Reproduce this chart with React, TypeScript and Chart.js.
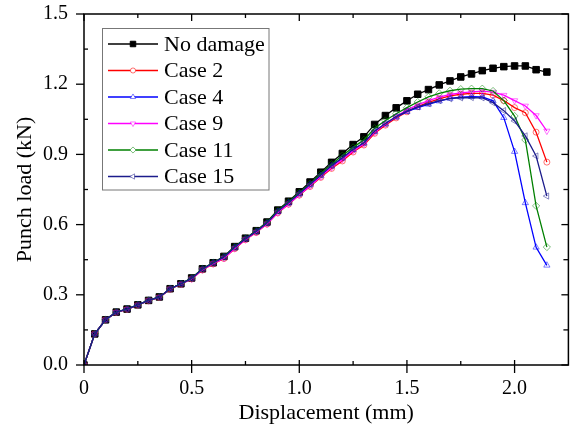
import React, { useEffect, useRef } from 'react';
import { Chart, registerables } from 'chart.js';
import { drawPoint } from 'chart.js/helpers';

Chart.register(...registerables);

const FONT = '"Liberation Serif", "Times New Roman", serif';

const displacement = [
  0, 0.05, 0.1, 0.15, 0.2, 0.25, 0.3, 0.35, 0.4, 0.45,
  0.5, 0.55, 0.6, 0.65, 0.7, 0.75, 0.8, 0.85, 0.9, 0.95,
  1.0, 1.05, 1.1, 1.15, 1.2, 1.25, 1.3, 1.35, 1.4, 1.45,
  1.5, 1.55, 1.6, 1.65, 1.7, 1.75, 1.8, 1.85, 1.9, 1.95,
  2.0, 2.05, 2.1, 2.15,
];

const noDamage = [
  0, 0.133, 0.193, 0.226, 0.239, 0.257, 0.276, 0.291, 0.326, 0.347,
  0.372, 0.411, 0.437, 0.464, 0.506, 0.542, 0.574, 0.611, 0.662, 0.7,
  0.74, 0.782, 0.824, 0.866, 0.904, 0.942, 0.975, 1.028, 1.066, 1.099,
  1.129, 1.157, 1.177, 1.197, 1.214, 1.231, 1.244, 1.258, 1.268, 1.275,
  1.278, 1.278, 1.262, 1.252,
];

const case2 = [
  0, 0.133, 0.193, 0.225, 0.238, 0.256, 0.275, 0.289, 0.324, 0.345,
  0.368, 0.406, 0.432, 0.455, 0.497, 0.535, 0.566, 0.602, 0.65, 0.687,
  0.726, 0.763, 0.802, 0.84, 0.872, 0.91, 0.94, 0.99, 1.025, 1.056,
  1.082, 1.104, 1.122, 1.137, 1.15, 1.157, 1.161, 1.161, 1.153, 1.13,
  1.1, 1.078, 0.995, 0.867,
];

const case4 = [
  0, 0.133, 0.193, 0.226, 0.239, 0.257, 0.276, 0.29, 0.326, 0.347,
  0.37, 0.41, 0.436, 0.461, 0.502, 0.539, 0.57, 0.606, 0.655, 0.692,
  0.731, 0.77, 0.81, 0.85, 0.884, 0.92, 0.948, 0.998, 1.03, 1.06,
  1.083, 1.1, 1.114, 1.128, 1.139, 1.145, 1.147, 1.146, 1.129, 1.057,
  0.912, 0.693, 0.503, 0.426,
];

const case9 = [
  0, 0.133, 0.193, 0.225, 0.238, 0.256, 0.275, 0.289, 0.325, 0.345,
  0.368, 0.407, 0.433, 0.456, 0.498, 0.536, 0.567, 0.603, 0.651, 0.688,
  0.727, 0.765, 0.805, 0.845, 0.878, 0.915, 0.945, 0.995, 1.03, 1.062,
  1.09, 1.112, 1.13, 1.145, 1.156, 1.163, 1.167, 1.17, 1.166, 1.153,
  1.13, 1.107, 1.066, 1.0,
];

const case11 = [
  0, 0.133, 0.193, 0.226, 0.239, 0.257, 0.276, 0.29, 0.326, 0.347,
  0.371, 0.411, 0.437, 0.463, 0.505, 0.541, 0.573, 0.609, 0.66, 0.697,
  0.736, 0.775, 0.818, 0.858, 0.895, 0.93, 0.962, 1.012, 1.045, 1.074,
  1.1, 1.124, 1.146, 1.161, 1.172, 1.179, 1.181, 1.181, 1.171, 1.13,
  1.064, 0.962, 0.68, 0.504,
];

const case15 = [
  0, 0.133, 0.193, 0.226, 0.239, 0.257, 0.276, 0.29, 0.326, 0.347,
  0.37, 0.41, 0.436, 0.462, 0.503, 0.539, 0.571, 0.607, 0.657, 0.693,
  0.733, 0.772, 0.812, 0.852, 0.886, 0.922, 0.95, 1.0, 1.032, 1.062,
  1.085, 1.103, 1.117, 1.13, 1.138, 1.142, 1.143, 1.142, 1.121, 1.087,
  1.043, 0.979, 0.893, 0.722,
];

const seriesNames = ['No damage', 'Case 2', 'Case 4', 'Case 9', 'Case 11', 'Case 15'];
const seriesValues = [noDamage, case2, case4, case9, case11, case15];

const xMajorTicks = [0, 0.5, 1.0, 1.5, 2.0];
const xTickLabels = ['0', '0.5', '1.0', '1.5', '2.0'];
const xMinorTicks = [0.25, 0.75, 1.25, 1.75];
const yMajorTicks = [0, 0.3, 0.6, 0.9, 1.2, 1.5];
const yTickLabels = ['0.0', '0.3', '0.6', '0.9', '1.2', '1.5'];
const yMinorTicks = [0.15, 0.45, 0.75, 1.05, 1.35];

const xTitle = 'Displacement (mm)';
const yTitle = 'Punch load (kN)';

type SeriesStyle = {
  line: string;
  marker: string;
  fill: string;
  pointStyle: string;
  rotation: number;
  radius: number;
};

const styles: SeriesStyle[] = [
  { line: '#000000', marker: '#000000', fill: '#000000', pointStyle: 'rect', rotation: 0, radius: 4.6 },
  { line: '#ff0000', marker: 'rgba(255,0,0,0.55)', fill: 'rgba(255,255,255,0)', pointStyle: 'circle', rotation: 0, radius: 3 },
  { line: '#0000ff', marker: 'rgba(0,0,255,0.5)', fill: 'rgba(255,255,255,0)', pointStyle: 'triangle', rotation: 0, radius: 3.6 },
  { line: '#ff00ff', marker: 'rgba(255,0,255,0.55)', fill: 'rgba(255,255,255,0)', pointStyle: 'triangle', rotation: 180, radius: 3.6 },
  { line: '#008000', marker: 'rgba(0,128,0,0.5)', fill: 'rgba(255,255,255,0)', pointStyle: 'rectRot', rotation: 0, radius: 3.6 },
  { line: '#1c1c8c', marker: 'rgba(28,28,140,0.5)', fill: 'rgba(255,255,255,0)', pointStyle: 'triangle', rotation: -90, radius: 3.6 },
];

const decorPlugin = {
  id: 'decor',
  afterDraw(chart: any) {
    const { ctx, chartArea } = chart;
    const { left, right, top, bottom } = chartArea;
    const xs = chart.scales.x;
    const ys = chart.scales.y;
    ctx.save();
    ctx.strokeStyle = '#000';
    ctx.lineWidth = 1.5;
    ctx.strokeRect(left, top, right - left, bottom - top);

    ctx.lineWidth = 1.3;
    const seg = (x1: number, y1: number, x2: number, y2: number) => {
      ctx.beginPath();
      ctx.moveTo(x1, y1);
      ctx.lineTo(x2, y2);
      ctx.stroke();
    };
    xMajorTicks.forEach((v) => {
      const p = xs.getPixelForValue(v);
      seg(p, bottom - 5, p, bottom + 8);
      seg(p, top, p, top + 7);
    });
    xMinorTicks.forEach((v) => {
      const p = xs.getPixelForValue(v);
      seg(p, bottom - 4, p, bottom);
      seg(p, top, p, top + 4);
    });
    yMajorTicks.forEach((v) => {
      const p = ys.getPixelForValue(v);
      seg(left - 8, p, left, p);
      seg(right - 7, p, right, p);
    });
    yMinorTicks.forEach((v) => {
      const p = ys.getPixelForValue(v);
      seg(left, p, left + 4, p);
      seg(right - 5, p, right, p);
    });

    // axis titles
    ctx.fillStyle = '#000';
    ctx.font = `22px ${FONT}`;
    ctx.textAlign = 'center';
    ctx.textBaseline = 'alphabetic';
    ctx.fillText(xTitle, (left + right) / 2, 419);
    ctx.save();
    ctx.translate(31, (top + bottom) / 2);
    ctx.rotate(-Math.PI / 2);
    ctx.fillText(yTitle, 0, 0);
    ctx.restore();

    // legend
    const bx = 102.5, by = 28.5, bw = 166.5, bh = 161.5;
    ctx.fillStyle = '#fff';
    ctx.fillRect(bx, by, bw, bh);
    ctx.strokeStyle = '#777';
    ctx.lineWidth = 1;
    ctx.strokeRect(bx, by, bw, bh);
    seriesNames.forEach((name, i) => {
      const st = styles[i];
      const yy = 44 + i * 26.5;
      ctx.strokeStyle = st.line;
      ctx.lineWidth = 1.3;
      seg(108, yy, 158, yy);
      ctx.strokeStyle = st.marker;
      ctx.fillStyle = st.fill === 'rgba(255,255,255,0)' ? '#ffffff' : st.fill;
      ctx.lineWidth = 1;
      drawPoint(ctx, { pointStyle: st.pointStyle, rotation: st.rotation, radius: st.radius * 0.85, borderWidth: 1 } as any, 133, yy);
      ctx.fillStyle = '#000';
      ctx.font = `22px ${FONT}`;
      ctx.textAlign = 'left';
      ctx.textBaseline = 'middle';
      ctx.fillText(name, 164, yy + 1);
    });
    ctx.restore();
  },
};

export default function App() {
  const canvasRef = useRef<HTMLCanvasElement | null>(null);

  useEffect(() => {
    const canvas = canvasRef.current;
    if (!canvas) return;
    const datasets = seriesNames.map((name, i) => ({
      label: name,
      data: displacement.map((x, j) => ({ x, y: seriesValues[i][j] })),
      borderColor: styles[i].line,
      borderWidth: 1.3,
      pointStyle: styles[i].pointStyle,
      pointRotation: styles[i].rotation,
      pointRadius: styles[i].radius,
      pointBorderWidth: 1,
      pointBorderColor: styles[i].marker,
      pointBackgroundColor: styles[i].fill,
      tension: 0,
      fill: false,
      order: seriesNames.length - i,
    }));
    const chart = new Chart(canvas, {
      type: 'line',
      data: { datasets } as any,
      options: {
        animation: false,
        responsive: false,
        maintainAspectRatio: false,
        layout: { padding: { top: 14, right: 5, left: 0, bottom: 0 } },
        plugins: { legend: { display: false }, tooltip: { enabled: false } },
        scales: {
          x: {
            type: 'linear',
            min: 0,
            max: 2.25,
            grid: { display: false },
            border: { display: false },
            afterBuildTicks: (s: any) => {
              s.ticks = xMajorTicks.map((v) => ({ value: v }));
            },
            afterFit: (s: any) => {
              s.height = 68;
              s.paddingLeft = 0;
              s.paddingRight = 0;
            },
            ticks: {
              autoSkip: false,
              maxRotation: 0,
              minRotation: 0,
              padding: 4,
              color: '#000',
              font: { family: FONT, size: 20 },
              callback: (_v: any, i: number) => xTickLabels[i],
            },
          },
          y: {
            type: 'linear',
            min: 0,
            max: 1.5,
            grid: { display: false },
            border: { display: false },
            afterBuildTicks: (s: any) => {
              s.ticks = yMajorTicks.map((v) => ({ value: v }));
            },
            afterFit: (s: any) => {
              s.width = 84;
              s.paddingTop = 0;
              s.paddingBottom = 0;
            },
            ticks: {
              autoSkip: false,
              padding: 8,
              color: '#000',
              font: { family: FONT, size: 20 },
              callback: (_v: any, i: number) => yTickLabels[i],
            },
          },
        },
      } as any,
      plugins: [decorPlugin],
    });
    return () => chart.destroy();
  }, []);

  return (
    <div style={{ position: 'fixed', left: 0, top: 0, width: 574, height: 433, background: '#fff' }}>
      <canvas ref={canvasRef} width={574} height={433} style={{ display: 'block' }} />
    </div>
  );
}
